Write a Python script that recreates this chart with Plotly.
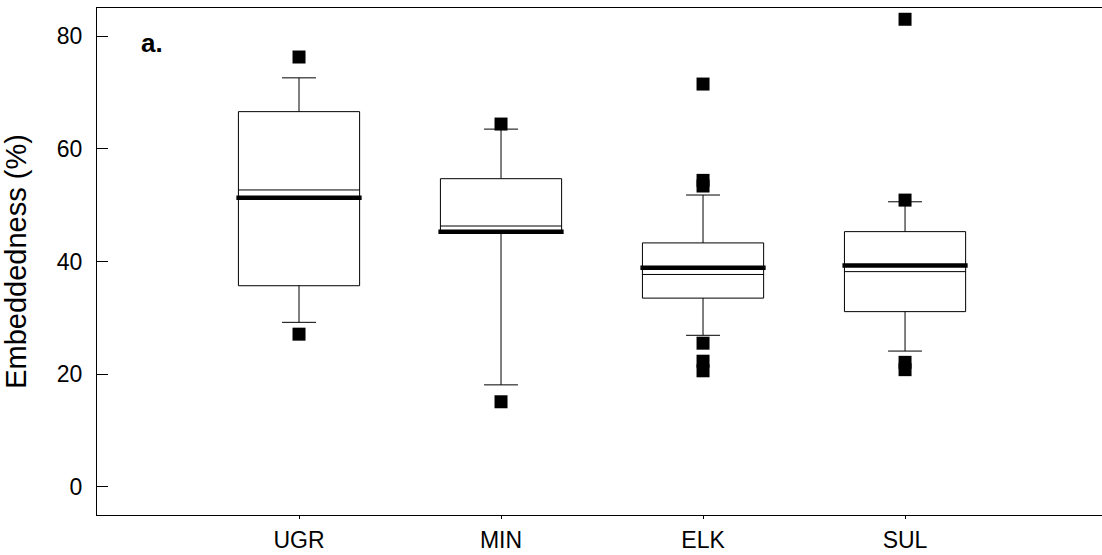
import plotly.graph_objects as go

# Embeddedness summary per site
categories = ["UGR", "MIN", "ELK", "SUL"]
q1_vals = [35.7, 45.4, 33.5, 31.1]
median_vals = [52.7, 46.3, 37.7, 38.2]
q3_vals = [66.6, 54.7, 43.3, 45.3]
lower_whisker = [29.2, 18.1, 26.9, 24.1]
upper_whisker = [72.6, 63.5, 51.8, 50.6]
mean_vals = [51.3, 45.3, 38.9, 39.3]

# Outlying observations (site, value)
outlier_site = ["UGR", "UGR", "MIN", "MIN",
                "ELK", "ELK", "ELK", "ELK", "ELK", "ELK",
                "SUL", "SUL", "SUL", "SUL"]
outlier_value = [76.3, 27.1, 64.4, 15.1,
                 71.5, 54.4, 53.4, 25.5, 22.3, 20.6,
                 83.0, 50.9, 22.1, 20.8]

y_ticks = [0, 20, 40, 60, 80]

FONT = "Liberation Sans, Arial, sans-serif"
BOX_WIDTH = 0.6
positions = list(range(1, len(categories) + 1))
pos_of = dict(zip(categories, positions))

fig = go.Figure()

fig.add_trace(go.Box(
    x=positions,
    q1=q1_vals,
    median=median_vals,
    q3=q3_vals,
    lowerfence=lower_whisker,
    upperfence=upper_whisker,
    width=BOX_WIDTH,
    whiskerwidth=0.28,
    fillcolor="white",
    line=dict(color="black", width=1),
    boxpoints=False,
    showlegend=False,
    hoverinfo="skip",
))

# Thick mean bars across each box
half = BOX_WIDTH / 2 + 0.01
mx, my = [], []
for p, m in zip(positions, mean_vals):
    mx += [p - half, p + half, None]
    my += [m, m, None]
fig.add_trace(go.Scatter(
    x=mx, y=my, mode="lines",
    line=dict(color="black", width=4.5),
    showlegend=False, hoverinfo="skip",
))

fig.add_trace(go.Scatter(
    x=[pos_of[s] for s in outlier_site],
    y=outlier_value,
    mode="markers",
    marker=dict(symbol="square", size=13, color="black", line=dict(width=0)),
    showlegend=False, hoverinfo="skip",
))

fig.add_annotation(
    text="<b>a.</b>", xref="paper", yref="paper",
    x=0.042, y=0.931, xanchor="left", yanchor="middle",
    showarrow=False, font=dict(family=FONT, size=26, color="black"),
)

fig.update_layout(
    width=1102, height=555,
    margin=dict(l=97, r=0, t=8, b=40),
    paper_bgcolor="white", plot_bgcolor="white",
    font=dict(family=FONT, size=23, color="black"),
    xaxis=dict(
        range=[0, 4.975],
        tickmode="array", tickvals=positions, ticktext=categories,
        showline=True, linecolor="black", linewidth=1, mirror=True,
        ticks="outside", ticklen=3, tickcolor="black",
        ticklabelstandoff=1,
        showgrid=False, zeroline=False,
        tickfont=dict(family=FONT, size=23, color="black"),
    ),
    yaxis=dict(
        range=[-5, 85],
        tickmode="array", tickvals=y_ticks,
        showline=True, linecolor="black", linewidth=1,
        ticks="inside", ticklen=11, tickcolor="black",
        ticklabelstandoff=9,
        showgrid=False, zeroline=False,
        tickfont=dict(family=FONT, size=23, color="black"),
        title=dict(text="Embeddedness (%)", standoff=21,
                   font=dict(family=FONT, size=29, color="black")),
    ),
)

fig.write_html("out.html")
